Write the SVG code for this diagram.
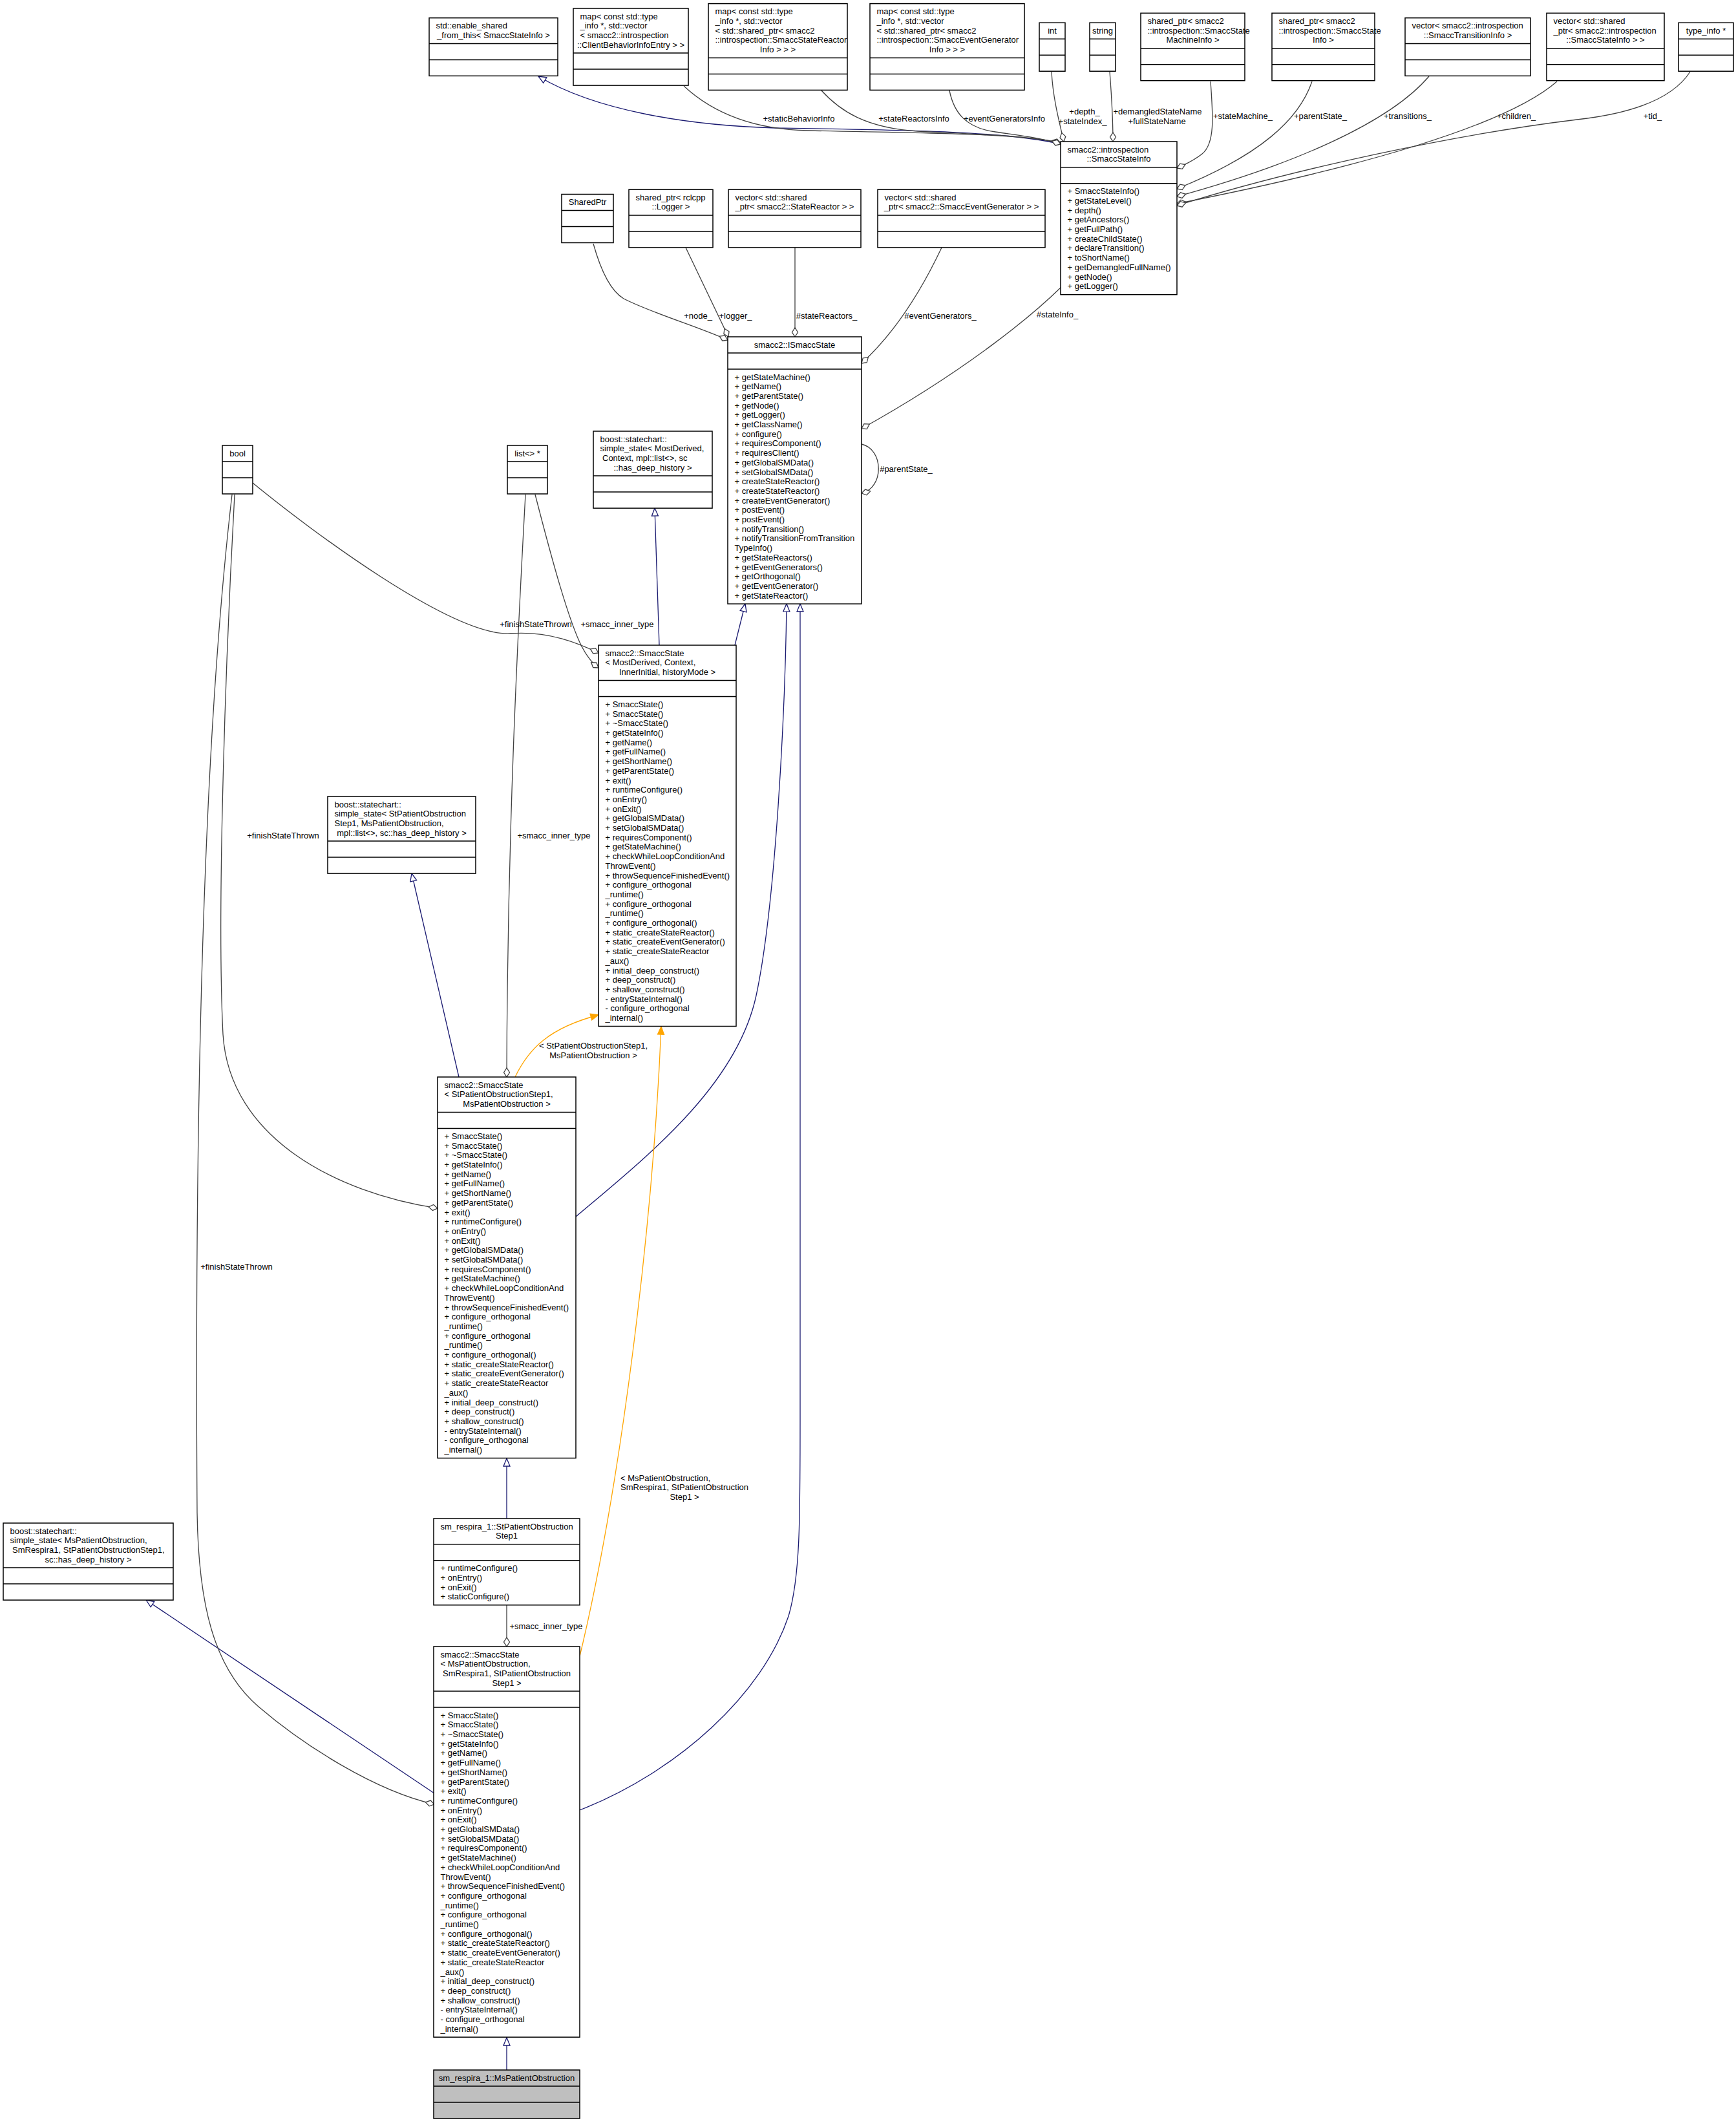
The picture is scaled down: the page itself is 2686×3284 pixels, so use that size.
<svg xmlns="http://www.w3.org/2000/svg" width="2686" height="3284" viewBox="0 0 2686 3284">
<style>
  .n rect { fill: #ffffff; stroke: #000000; stroke-width: 1.5; }
  .n path { fill: none; stroke: #000000; stroke-width: 1.5; }
  .main rect { fill: #bfbfbf; }
  text { font-family: "Liberation Sans", Arial, Helvetica, sans-serif; font-size: 13px; fill: #000000; }
  .c { text-anchor: middle; }
  .e path { fill: none; stroke-width: 1.3; }
  .e .use { stroke: #404040; }
  .e .inh { stroke: #191970; }
  .e .tpl { stroke: #ffa500; }
</style>
<defs>
  <marker id="dia" markerUnits="userSpaceOnUse" viewBox="-16 -8 18 16" markerWidth="18" markerHeight="16" refX="0" refY="0" orient="auto">
    <path d="M0,0 L-7,-4.5 L-14,0 L-7,4.5 Z" fill="#ffffff" stroke="#404040" stroke-width="1.3"/>
  </marker>
  <marker id="tri" markerUnits="userSpaceOnUse" viewBox="-16 -8 18 16" markerWidth="18" markerHeight="16" refX="0" refY="0" orient="auto">
    <path d="M0,0 L-12,-5 L-12,5 Z" fill="#ffffff" stroke="#191970" stroke-width="1.3"/>
  </marker>
  <marker id="arr" markerUnits="userSpaceOnUse" viewBox="-16 -8 18 16" markerWidth="18" markerHeight="16" refX="0" refY="0" orient="auto">
    <path d="M0,0 L-12,-5 L-12,5 Z" fill="#ffa500" stroke="#ffa500" stroke-width="1.3"/>
  </marker>
</defs>
<rect x="0" y="0" width="2686" height="3284" fill="#ffffff"/>

<!-- connectors -->
<g id="edges" class="e">
  <!-- inheritance -->
  <path class="inh" marker-end="url(#tri)" d="M1641,223 C1560,203 1400,201 1200,198 C1060,194 920,170 833,118"/>
  <path class="inh" marker-end="url(#tri)" d="M1137,998 L1153,934"/>
  <path class="inh" marker-end="url(#tri)" d="M1020,998 L1013,786"/>
  <path class="inh" marker-end="url(#tri)" d="M891,1882 C1000,1790 1140,1680 1170,1540 C1200,1400 1215,1100 1217,934"/>
  <path class="inh" marker-end="url(#tri)" d="M710,1666 L637,1351"/>
  <path class="inh" marker-end="url(#tri)" d="M784,2349 L784,2256"/>
  <path class="inh" marker-end="url(#tri)" d="M897,2800 C1050,2740 1180,2620 1220,2500 C1238,2440 1238,2350 1238,2200 L1238,934"/>
  <path class="inh" marker-end="url(#tri)" d="M672,2774 L226,2475"/>
  <path class="inh" marker-end="url(#tri)" d="M784,3202 L784,3152"/>

  <!-- template instantiation -->
  <path class="tpl" marker-end="url(#arr)" d="M797,1666 C818,1622 850,1590 926,1570"/>
  <path class="tpl" marker-end="url(#arr)" d="M897,2562 C960,2300 1010,1900 1023,1588"/>

  <!-- usage -->
  <path class="use" marker-end="url(#dia)" d="M1058,133 C1100,172 1160,200 1250,202 C1420,206 1580,206 1641,221"/>
  <path class="use" marker-end="url(#dia)" d="M1271,140 C1300,172 1340,198 1420,203 C1520,208 1600,210 1641,222"/>
  <path class="use" marker-end="url(#dia)" d="M1469,140 C1476,175 1495,198 1540,204 C1580,210 1615,214 1641,223"/>
  <path class="use" marker-end="url(#dia)" d="M1627,111 C1629,150 1638,185 1646,219"/>
  <path class="use" marker-end="url(#dia)" d="M1717,111 C1720,150 1722,185 1722,219"/>
  <path class="use" marker-end="url(#dia)" d="M1873,126 C1877,180 1880,222 1860,238 C1850,246 1835,254 1821,260"/>
  <path class="use" marker-end="url(#dia)" d="M2030,126 C2010,185 1950,240 1821,292"/>
  <path class="use" marker-end="url(#dia)" d="M2211,118 C2150,190 2000,255 1821,304"/>
  <path class="use" marker-end="url(#dia)" d="M2409,126 C2330,195 2100,260 1821,315"/>
  <path class="use" marker-end="url(#dia)" d="M2615,111 C2590,150 2530,175 2440,185 C2250,208 2000,262 1821,318"/>
  <path class="use" marker-end="url(#dia)" d="M918,377 C930,420 945,450 965,462 C1010,485 1080,505 1126,526"/>
  <path class="use" marker-end="url(#dia)" d="M1061,383 L1127,521"/>
  <path class="use" marker-end="url(#dia)" d="M1230,383 L1230,521"/>
  <path class="use" marker-end="url(#dia)" d="M1457,383 C1430,440 1390,510 1333,562"/>
  <path class="use" marker-end="url(#dia)" d="M1641,445 C1600,485 1500,570 1333,663"/>
  <path class="use" marker-end="url(#dia)" d="M1333,687 C1368,695 1368,755 1333,763"/>
  <path class="use" marker-end="url(#dia)" d="M391,747 C480,820 700,985 790,980 C850,976 895,995 926,1010"/>
  <path class="use" marker-end="url(#dia)" d="M828,765 C855,870 880,960 900,1000 C908,1015 915,1025 926,1033"/>
  <path class="use" marker-end="url(#dia)" d="M813,765 C800,1000 785,1300 784,1666"/>
  <path class="use" marker-end="url(#dia)" d="M363,765 C350,1000 335,1400 345,1600 C355,1760 520,1845 677,1869"/>
  <path class="use" marker-end="url(#dia)" d="M359,765 C320,1100 300,1600 305,2340 C307,2480 330,2580 400,2640 C470,2700 580,2770 672,2791"/>
  <path class="use" marker-end="url(#dia)" d="M784,2483 L784,2547"/>

  <!-- edge labels -->
  <g id="edge-labels">
    <text class="c" x="1236" y="187.5">+staticBehaviorInfo</text>
    <text class="c" x="1414" y="187.5">+stateReactorsInfo</text>
    <text class="c" x="1554" y="187.5">+eventGeneratorsInfo</text>
    <text class="c" x="1678" y="176.5">+depth_</text>
    <text class="c" x="1675" y="191.5">+stateIndex_</text>
    <text class="c" x="1791" y="176.5">+demangledStateName</text>
    <text class="c" x="1790" y="191.5">+fullStateName</text>
    <text class="c" x="1923" y="183.5">+stateMachine_</text>
    <text class="c" x="2043" y="183.5">+parentState_</text>
    <text class="c" x="2178" y="183.5">+transitions_</text>
    <text class="c" x="2346" y="183.5">+children_</text>
    <text class="c" x="2557" y="183.5">+tid_</text>
    <text class="c" x="1080" y="492.5">+node_</text>
    <text class="c" x="1138" y="492.5">+logger_</text>
    <text class="c" x="1279" y="492.5">#stateReactors_</text>
    <text class="c" x="1455" y="492.5">#eventGenerators_</text>
    <text class="c" x="1636" y="490.5">#stateInfo_</text>
    <text class="c" x="1402" y="729.5">#parentState_</text>
    <text class="c" x="829" y="969.5">+finishStateThrown</text>
    <text class="c" x="955" y="969.5">+smacc_inner_type</text>
    <text class="c" x="438" y="1296.5">+finishStateThrown</text>
    <text class="c" x="857" y="1296.5">+smacc_inner_type</text>
    <text class="c" x="366" y="1963.5">+finishStateThrown</text>
    <text class="c" x="918" y="1621.5">&lt; StPatientObstructionStep1,</text>
    <text class="c" x="918" y="1636.5">MsPatientObstruction &gt;</text>
    <text x="960" y="2290.5">&lt; MsPatientObstruction,</text>
    <text x="960" y="2305.2">SmRespira1, StPatientObstruction</text>
    <text class="c" x="1059" y="2319.9">Step1 &gt;</text>
    <text class="c" x="845" y="2519.5">+smacc_inner_type</text>
  </g>
</g>

<!-- top row -->
<g id="enable_shared_from_this" class="n">
  <rect x="664" y="27.7" width="199" height="89.7"/>
  <path d="M664,67.4 H863 M664,92.4 H863"/>
  <text x="674.5" y="44.2">std::enable_shared</text>
  <text class="c" x="763.5" y="58.9">_from_this&lt; SmaccStateInfo &gt;</text>
</g>
<g id="map_client_behavior" class="n">
  <rect x="887" y="13" width="178" height="119.1"/>
  <path d="M887,82.1 H1065 M887,107.1 H1065"/>
  <text x="897.5" y="29.5">map&lt; const std::type</text>
  <text x="897.5" y="44.2">_info *, std::vector</text>
  <text x="897.5" y="58.9">&lt; smacc2::introspection</text>
  <text class="c" x="976" y="73.6">::ClientBehaviorInfoEntry &gt; &gt;</text>
</g>
<g id="map_state_reactor" class="n">
  <rect x="1096" y="5.6" width="215" height="133.8"/>
  <path d="M1096,89.4 H1311 M1096,114.4 H1311"/>
  <text x="1106.5" y="22.1">map&lt; const std::type</text>
  <text x="1106.5" y="36.8">_info *, std::vector</text>
  <text x="1106.5" y="51.5">&lt; std::shared_ptr&lt; smacc2</text>
  <text x="1106.5" y="66.2">::introspection::SmaccStateReactor</text>
  <text class="c" x="1203.5" y="80.9">Info &gt; &gt; &gt;</text>
</g>
<g id="map_event_generator" class="n">
  <rect x="1346" y="5.6" width="239" height="133.8"/>
  <path d="M1346,89.4 H1585 M1346,114.4 H1585"/>
  <text x="1356.5" y="22.1">map&lt; const std::type</text>
  <text x="1356.5" y="36.8">_info *, std::vector</text>
  <text x="1356.5" y="51.5">&lt; std::shared_ptr&lt; smacc2</text>
  <text x="1356.5" y="66.2">::introspection::SmaccEventGenerator</text>
  <text class="c" x="1465.5" y="80.9">Info &gt; &gt; &gt;</text>
</g>
<g id="int" class="n">
  <rect x="1608" y="35.2" width="40" height="75"/>
  <path d="M1608,60.2 H1648 M1608,85.2 H1648"/>
  <text class="c" x="1628" y="51.7">int</text>
</g>
<g id="string" class="n">
  <rect x="1686" y="35.2" width="40" height="75"/>
  <path d="M1686,60.2 H1726 M1686,85.2 H1726"/>
  <text class="c" x="1706" y="51.7">string</text>
</g>
<g id="shared_ptr_machine_info" class="n">
  <rect x="1765" y="20.3" width="161" height="104.4"/>
  <path d="M1765,74.7 H1926 M1765,99.7 H1926"/>
  <text x="1775.5" y="36.8">shared_ptr&lt; smacc2</text>
  <text x="1775.5" y="51.5">::introspection::SmaccState</text>
  <text class="c" x="1845.5" y="66.2">MachineInfo &gt;</text>
</g>
<g id="shared_ptr_state_info" class="n">
  <rect x="1968" y="20.3" width="159" height="104.4"/>
  <path d="M1968,74.7 H2127 M1968,99.7 H2127"/>
  <text x="1978.5" y="36.8">shared_ptr&lt; smacc2</text>
  <text x="1978.5" y="51.5">::introspection::SmaccState</text>
  <text class="c" x="2047.5" y="66.2">Info &gt;</text>
</g>
<g id="vector_transition_info" class="n">
  <rect x="2174" y="27.7" width="194" height="89.7"/>
  <path d="M2174,67.4 H2368 M2174,92.4 H2368"/>
  <text x="2184.5" y="44.2">vector&lt; smacc2::introspection</text>
  <text class="c" x="2271" y="58.9">::SmaccTransitionInfo &gt;</text>
</g>
<g id="vector_state_info" class="n">
  <rect x="2393" y="20.3" width="182" height="104.4"/>
  <path d="M2393,74.7 H2575 M2393,99.7 H2575"/>
  <text x="2403.5" y="36.8">vector&lt; std::shared</text>
  <text x="2403.5" y="51.5">_ptr&lt; smacc2::introspection</text>
  <text class="c" x="2484" y="66.2">::SmaccStateInfo &gt; &gt;</text>
</g>
<g id="type_info_ptr" class="n">
  <rect x="2597" y="35.2" width="85" height="75"/>
  <path d="M2597,60.2 H2682 M2597,85.2 H2682"/>
  <text class="c" x="2639.5" y="51.7">type_info *</text>
</g>

<!-- second row -->
<g id="SharedPtr" class="n">
  <rect x="869" y="300.5" width="80" height="75"/>
  <path d="M869,325.5 H949 M869,350.5 H949"/>
  <text class="c" x="909" y="317">SharedPtr</text>
</g>
<g id="shared_ptr_logger" class="n">
  <rect x="973" y="293.2" width="130" height="89.7"/>
  <path d="M973,332.9 H1103 M973,357.9 H1103"/>
  <text x="983.5" y="309.7">shared_ptr&lt; rclcpp</text>
  <text class="c" x="1038" y="324.4">::Logger &gt;</text>
</g>
<g id="vector_state_reactor" class="n">
  <rect x="1127" y="293.2" width="205" height="89.7"/>
  <path d="M1127,332.9 H1332 M1127,357.9 H1332"/>
  <text x="1137.5" y="309.7">vector&lt; std::shared</text>
  <text class="c" x="1229.5" y="324.4">_ptr&lt; smacc2::StateReactor &gt; &gt;</text>
</g>
<g id="vector_event_generator" class="n">
  <rect x="1358" y="293.2" width="259" height="89.7"/>
  <path d="M1358,332.9 H1617 M1358,357.9 H1617"/>
  <text x="1368.5" y="309.7">vector&lt; std::shared</text>
  <text class="c" x="1487.5" y="324.4">_ptr&lt; smacc2::SmaccEventGenerator &gt; &gt;</text>
</g>

<g id="SmaccStateInfo" class="n">
  <rect x="1641" y="219" width="180" height="236.7"/>
  <path d="M1641,258.7 H1821 M1641,283.7 H1821"/>
  <text x="1651.5" y="235.5">smacc2::introspection</text>
  <text class="c" x="1731" y="250.2">::SmaccStateInfo</text>
  <text x="1651.5" y="300.2">
    <tspan x="1651.5" dy="0">+ SmaccStateInfo()</tspan>
    <tspan x="1651.5" dy="14.7">+ getStateLevel()</tspan>
    <tspan x="1651.5" dy="14.7">+ depth()</tspan>
    <tspan x="1651.5" dy="14.7">+ getAncestors()</tspan>
    <tspan x="1651.5" dy="14.7">+ getFullPath()</tspan>
    <tspan x="1651.5" dy="14.7">+ createChildState()</tspan>
    <tspan x="1651.5" dy="14.7">+ declareTransition()</tspan>
    <tspan x="1651.5" dy="14.7">+ toShortName()</tspan>
    <tspan x="1651.5" dy="14.7">+ getDemangledFullName()</tspan>
    <tspan x="1651.5" dy="14.7">+ getNode()</tspan>
    <tspan x="1651.5" dy="14.7">+ getLogger()</tspan>
  </text>
</g>

<g id="ISmaccState" class="n">
  <rect x="1126" y="521" width="207" height="413.1"/>
  <path d="M1126,546 H1333 M1126,571 H1333"/>
  <text class="c" x="1229.5" y="537.5">smacc2::ISmaccState</text>
  <text x="1136.5" y="587.5">
    <tspan x="1136.5" dy="0">+ getStateMachine()</tspan>
    <tspan x="1136.5" dy="14.7">+ getName()</tspan>
    <tspan x="1136.5" dy="14.7">+ getParentState()</tspan>
    <tspan x="1136.5" dy="14.7">+ getNode()</tspan>
    <tspan x="1136.5" dy="14.7">+ getLogger()</tspan>
    <tspan x="1136.5" dy="14.7">+ getClassName()</tspan>
    <tspan x="1136.5" dy="14.7">+ configure()</tspan>
    <tspan x="1136.5" dy="14.7">+ requiresComponent()</tspan>
    <tspan x="1136.5" dy="14.7">+ requiresClient()</tspan>
    <tspan x="1136.5" dy="14.7">+ getGlobalSMData()</tspan>
    <tspan x="1136.5" dy="14.7">+ setGlobalSMData()</tspan>
    <tspan x="1136.5" dy="14.7">+ createStateReactor()</tspan>
    <tspan x="1136.5" dy="14.7">+ createStateReactor()</tspan>
    <tspan x="1136.5" dy="14.7">+ createEventGenerator()</tspan>
    <tspan x="1136.5" dy="14.7">+ postEvent()</tspan>
    <tspan x="1136.5" dy="14.7">+ postEvent()</tspan>
    <tspan x="1136.5" dy="14.7">+ notifyTransition()</tspan>
    <tspan x="1136.5" dy="14.7">+ notifyTransitionFromTransition</tspan>
    <tspan x="1136.5" dy="14.7">TypeInfo()</tspan>
    <tspan x="1136.5" dy="14.7">+ getStateReactors()</tspan>
    <tspan x="1136.5" dy="14.7">+ getEventGenerators()</tspan>
    <tspan x="1136.5" dy="14.7">+ getOrthogonal()</tspan>
    <tspan x="1136.5" dy="14.7">+ getEventGenerator()</tspan>
    <tspan x="1136.5" dy="14.7">+ getStateReactor()</tspan>
  </text>
</g>

<g id="bool" class="n">
  <rect x="344" y="689" width="47" height="75"/>
  <path d="M344,714 H391 M344,739 H391"/>
  <text class="c" x="367.5" y="705.5">bool</text>
</g>
<g id="list_ptr" class="n">
  <rect x="785" y="689" width="62" height="75"/>
  <path d="M785,714 H847 M785,739 H847"/>
  <text class="c" x="816" y="705.5">list&lt;&gt; *</text>
</g>
<g id="simple_state_generic" class="n">
  <rect x="918" y="667" width="184" height="119.1"/>
  <path d="M918,736.1 H1102 M918,761.1 H1102"/>
  <text x="928.5" y="683.5">boost::statechart::</text>
  <text x="928.5" y="698.2">simple_state&lt; MostDerived,</text>
  <text x="932" y="712.9">Context, mpl::list&lt;&gt;, sc</text>
  <text class="c" x="1010" y="727.6">::has_deep_history &gt;</text>
</g>

<g id="SmaccState_generic" class="n">
  <rect x="926" y="998" width="213" height="589.5"/>
  <path d="M926,1052.4 H1139 M926,1077.4 H1139"/>
  <text x="936.5" y="1014.5">smacc2::SmaccState</text>
  <text x="936.5" y="1029.2">&lt; MostDerived, Context,</text>
  <text class="c" x="1032.5" y="1043.9">InnerInitial, historyMode &gt;</text>
  <text x="936.5" y="1093.9">
    <tspan x="936.5" dy="0">+ SmaccState()</tspan>
    <tspan x="936.5" dy="14.7">+ SmaccState()</tspan>
    <tspan x="936.5" dy="14.7">+ ~SmaccState()</tspan>
    <tspan x="936.5" dy="14.7">+ getStateInfo()</tspan>
    <tspan x="936.5" dy="14.7">+ getName()</tspan>
    <tspan x="936.5" dy="14.7">+ getFullName()</tspan>
    <tspan x="936.5" dy="14.7">+ getShortName()</tspan>
    <tspan x="936.5" dy="14.7">+ getParentState()</tspan>
    <tspan x="936.5" dy="14.7">+ exit()</tspan>
    <tspan x="936.5" dy="14.7">+ runtimeConfigure()</tspan>
    <tspan x="936.5" dy="14.7">+ onEntry()</tspan>
    <tspan x="936.5" dy="14.7">+ onExit()</tspan>
    <tspan x="936.5" dy="14.7">+ getGlobalSMData()</tspan>
    <tspan x="936.5" dy="14.7">+ setGlobalSMData()</tspan>
    <tspan x="936.5" dy="14.7">+ requiresComponent()</tspan>
    <tspan x="936.5" dy="14.7">+ getStateMachine()</tspan>
    <tspan x="936.5" dy="14.7">+ checkWhileLoopConditionAnd</tspan>
    <tspan x="936.5" dy="14.7">ThrowEvent()</tspan>
    <tspan x="936.5" dy="14.7">+ throwSequenceFinishedEvent()</tspan>
    <tspan x="936.5" dy="14.7">+ configure_orthogonal</tspan>
    <tspan x="936.5" dy="14.7">_runtime()</tspan>
    <tspan x="936.5" dy="14.7">+ configure_orthogonal</tspan>
    <tspan x="936.5" dy="14.7">_runtime()</tspan>
    <tspan x="936.5" dy="14.7">+ configure_orthogonal()</tspan>
    <tspan x="936.5" dy="14.7">+ static_createStateReactor()</tspan>
    <tspan x="936.5" dy="14.7">+ static_createEventGenerator()</tspan>
    <tspan x="936.5" dy="14.7">+ static_createStateReactor</tspan>
    <tspan x="936.5" dy="14.7">_aux()</tspan>
    <tspan x="936.5" dy="14.7">+ initial_deep_construct()</tspan>
    <tspan x="936.5" dy="14.7">+ deep_construct()</tspan>
    <tspan x="936.5" dy="14.7">+ shallow_construct()</tspan>
    <tspan x="936.5" dy="14.7">- entryStateInternal()</tspan>
    <tspan x="936.5" dy="14.7">- configure_orthogonal</tspan>
    <tspan x="936.5" dy="14.7">_internal()</tspan>
  </text>
</g>

<g id="simple_state_step1" class="n">
  <rect x="507" y="1232" width="229" height="119.1"/>
  <path d="M507,1301.1 H736 M507,1326.1 H736"/>
  <text x="517.5" y="1248.5">boost::statechart::</text>
  <text x="517.5" y="1263.2">simple_state&lt; StPatientObstruction</text>
  <text x="517.5" y="1277.9">Step1, MsPatientObstruction,</text>
  <text class="c" x="621.5" y="1292.6">mpl::list&lt;&gt;, sc::has_deep_history &gt;</text>
</g>

<g id="SmaccState_step1" class="n">
  <rect x="677" y="1666" width="214" height="589.5"/>
  <path d="M677,1720.4 H891 M677,1745.4 H891"/>
  <text x="687.5" y="1682.5">smacc2::SmaccState</text>
  <text x="687.5" y="1697.2">&lt; StPatientObstructionStep1,</text>
  <text class="c" x="784" y="1711.9">MsPatientObstruction &gt;</text>
  <text x="687.5" y="1761.9">
    <tspan x="687.5" dy="0">+ SmaccState()</tspan>
    <tspan x="687.5" dy="14.7">+ SmaccState()</tspan>
    <tspan x="687.5" dy="14.7">+ ~SmaccState()</tspan>
    <tspan x="687.5" dy="14.7">+ getStateInfo()</tspan>
    <tspan x="687.5" dy="14.7">+ getName()</tspan>
    <tspan x="687.5" dy="14.7">+ getFullName()</tspan>
    <tspan x="687.5" dy="14.7">+ getShortName()</tspan>
    <tspan x="687.5" dy="14.7">+ getParentState()</tspan>
    <tspan x="687.5" dy="14.7">+ exit()</tspan>
    <tspan x="687.5" dy="14.7">+ runtimeConfigure()</tspan>
    <tspan x="687.5" dy="14.7">+ onEntry()</tspan>
    <tspan x="687.5" dy="14.7">+ onExit()</tspan>
    <tspan x="687.5" dy="14.7">+ getGlobalSMData()</tspan>
    <tspan x="687.5" dy="14.7">+ setGlobalSMData()</tspan>
    <tspan x="687.5" dy="14.7">+ requiresComponent()</tspan>
    <tspan x="687.5" dy="14.7">+ getStateMachine()</tspan>
    <tspan x="687.5" dy="14.7">+ checkWhileLoopConditionAnd</tspan>
    <tspan x="687.5" dy="14.7">ThrowEvent()</tspan>
    <tspan x="687.5" dy="14.7">+ throwSequenceFinishedEvent()</tspan>
    <tspan x="687.5" dy="14.7">+ configure_orthogonal</tspan>
    <tspan x="687.5" dy="14.7">_runtime()</tspan>
    <tspan x="687.5" dy="14.7">+ configure_orthogonal</tspan>
    <tspan x="687.5" dy="14.7">_runtime()</tspan>
    <tspan x="687.5" dy="14.7">+ configure_orthogonal()</tspan>
    <tspan x="687.5" dy="14.7">+ static_createStateReactor()</tspan>
    <tspan x="687.5" dy="14.7">+ static_createEventGenerator()</tspan>
    <tspan x="687.5" dy="14.7">+ static_createStateReactor</tspan>
    <tspan x="687.5" dy="14.7">_aux()</tspan>
    <tspan x="687.5" dy="14.7">+ initial_deep_construct()</tspan>
    <tspan x="687.5" dy="14.7">+ deep_construct()</tspan>
    <tspan x="687.5" dy="14.7">+ shallow_construct()</tspan>
    <tspan x="687.5" dy="14.7">- entryStateInternal()</tspan>
    <tspan x="687.5" dy="14.7">- configure_orthogonal</tspan>
    <tspan x="687.5" dy="14.7">_internal()</tspan>
  </text>
</g>

<g id="StPatientObstructionStep1" class="n">
  <rect x="671" y="2349" width="226" height="133.8"/>
  <path d="M671,2388.7 H897 M671,2413.7 H897"/>
  <text x="681.5" y="2365.5">sm_respira_1::StPatientObstruction</text>
  <text class="c" x="784" y="2380.2">Step1</text>
  <text x="681.5" y="2430.2">
    <tspan x="681.5" dy="0">+ runtimeConfigure()</tspan>
    <tspan x="681.5" dy="14.7">+ onEntry()</tspan>
    <tspan x="681.5" dy="14.7">+ onExit()</tspan>
    <tspan x="681.5" dy="14.7">+ staticConfigure()</tspan>
  </text>
</g>

<g id="simple_state_obstruction" class="n">
  <rect x="5" y="2356" width="263" height="119.1"/>
  <path d="M5,2425.1 H268 M5,2450.1 H268"/>
  <text x="15.5" y="2372.5">boost::statechart::</text>
  <text x="15.5" y="2387.2">simple_state&lt; MsPatientObstruction,</text>
  <text x="19" y="2401.9">SmRespira1, StPatientObstructionStep1,</text>
  <text class="c" x="136.5" y="2416.6">sc::has_deep_history &gt;</text>
</g>

<g id="SmaccState_obstruction" class="n">
  <rect x="671" y="2547" width="226" height="604.2"/>
  <path d="M671,2616.1 H897 M671,2641.1 H897"/>
  <text x="681.5" y="2563.5">smacc2::SmaccState</text>
  <text x="681.5" y="2578.2">&lt; MsPatientObstruction,</text>
  <text x="685" y="2592.9">SmRespira1, StPatientObstruction</text>
  <text class="c" x="784" y="2607.6">Step1 &gt;</text>
  <text x="681.5" y="2657.6">
    <tspan x="681.5" dy="0">+ SmaccState()</tspan>
    <tspan x="681.5" dy="14.7">+ SmaccState()</tspan>
    <tspan x="681.5" dy="14.7">+ ~SmaccState()</tspan>
    <tspan x="681.5" dy="14.7">+ getStateInfo()</tspan>
    <tspan x="681.5" dy="14.7">+ getName()</tspan>
    <tspan x="681.5" dy="14.7">+ getFullName()</tspan>
    <tspan x="681.5" dy="14.7">+ getShortName()</tspan>
    <tspan x="681.5" dy="14.7">+ getParentState()</tspan>
    <tspan x="681.5" dy="14.7">+ exit()</tspan>
    <tspan x="681.5" dy="14.7">+ runtimeConfigure()</tspan>
    <tspan x="681.5" dy="14.7">+ onEntry()</tspan>
    <tspan x="681.5" dy="14.7">+ onExit()</tspan>
    <tspan x="681.5" dy="14.7">+ getGlobalSMData()</tspan>
    <tspan x="681.5" dy="14.7">+ setGlobalSMData()</tspan>
    <tspan x="681.5" dy="14.7">+ requiresComponent()</tspan>
    <tspan x="681.5" dy="14.7">+ getStateMachine()</tspan>
    <tspan x="681.5" dy="14.7">+ checkWhileLoopConditionAnd</tspan>
    <tspan x="681.5" dy="14.7">ThrowEvent()</tspan>
    <tspan x="681.5" dy="14.7">+ throwSequenceFinishedEvent()</tspan>
    <tspan x="681.5" dy="14.7">+ configure_orthogonal</tspan>
    <tspan x="681.5" dy="14.7">_runtime()</tspan>
    <tspan x="681.5" dy="14.7">+ configure_orthogonal</tspan>
    <tspan x="681.5" dy="14.7">_runtime()</tspan>
    <tspan x="681.5" dy="14.7">+ configure_orthogonal()</tspan>
    <tspan x="681.5" dy="14.7">+ static_createStateReactor()</tspan>
    <tspan x="681.5" dy="14.7">+ static_createEventGenerator()</tspan>
    <tspan x="681.5" dy="14.7">+ static_createStateReactor</tspan>
    <tspan x="681.5" dy="14.7">_aux()</tspan>
    <tspan x="681.5" dy="14.7">+ initial_deep_construct()</tspan>
    <tspan x="681.5" dy="14.7">+ deep_construct()</tspan>
    <tspan x="681.5" dy="14.7">+ shallow_construct()</tspan>
    <tspan x="681.5" dy="14.7">- entryStateInternal()</tspan>
    <tspan x="681.5" dy="14.7">- configure_orthogonal</tspan>
    <tspan x="681.5" dy="14.7">_internal()</tspan>
  </text>
</g>

<g id="MsPatientObstruction" class="n main">
  <rect x="671" y="3202" width="226" height="75"/>
  <path d="M671,3227 H897 M671,3252 H897"/>
  <text class="c" x="784" y="3218.5">sm_respira_1::MsPatientObstruction</text>
</g>
</svg>
